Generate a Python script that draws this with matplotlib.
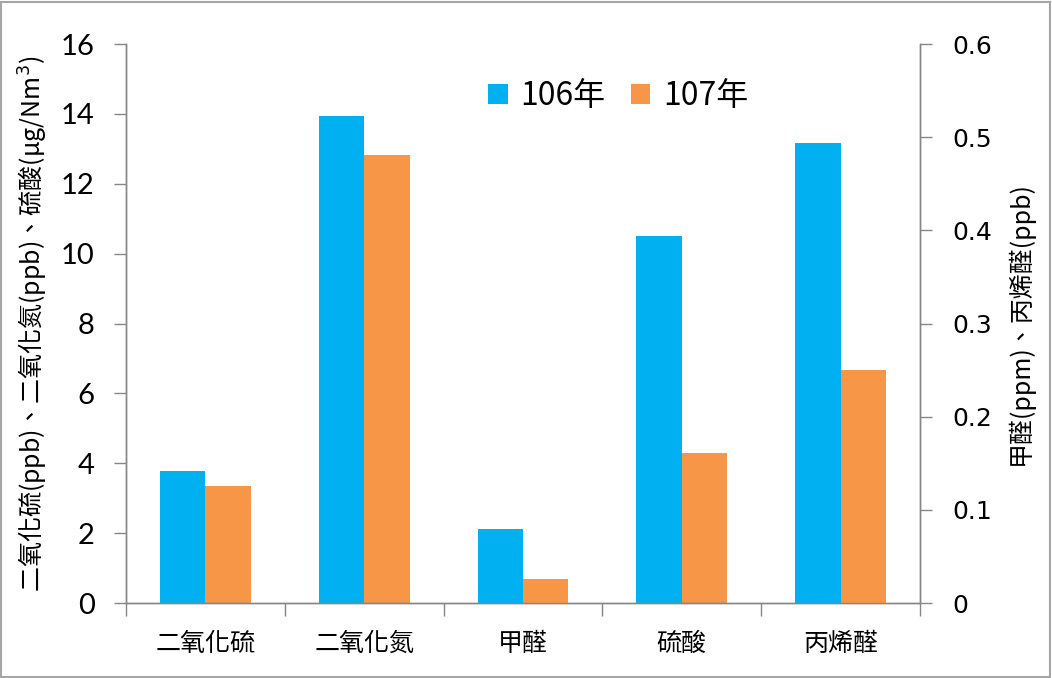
import matplotlib
matplotlib.use("Agg")
import matplotlib.pyplot as plt
from matplotlib.patches import Rectangle
import numpy as np

categories = ["二氧化硫", "二氧化氮", "甲醛", "硫酸", "丙烯醛"]
series_names = ["106年", "107年"]
# left-axis pollutants (ppb / μg/Nm3)
left_idx = [0, 1, 3]
left_106 = [3.78, 13.94, 10.5]
left_107 = [3.35, 12.82, 4.29]
# right-axis pollutants (ppm / ppb)
right_idx = [2, 4]
right_106 = [0.0795, 0.494]
right_107 = [0.026, 0.25]
left_ticks = [0, 2, 4, 6, 8, 10, 12, 14, 16]
right_ticks = [0, 0.1, 0.2, 0.3, 0.4, 0.5, 0.6]
right_tick_labels = ["0", "0.1", "0.2", "0.3", "0.4", "0.5", "0.6"]

c106 = "#00B0F0"
c107 = "#F79646"
gray = "#868686"
cjk = ["Noto Sans CJK TC", "DejaVu Sans"]

fig = plt.figure(figsize=(10.52, 6.78), dpi=100)
fig.patches.append(Rectangle((0.001, 0.001), 0.997, 0.996, transform=fig.transFigure,
                             fill=False, edgecolor="#A6A6A6", linewidth=1.5))
ax = fig.add_axes([0.1198, 0.1106, 0.7547, 0.8245])
ax2 = ax.twinx()

w = 0.286
x = np.arange(len(categories))
ax.bar(np.array(left_idx) - w / 2, left_106, w, color=c106, label=series_names[0])
ax.bar(np.array(left_idx) + w / 2, left_107, w, color=c107, label=series_names[1])
ax2.bar(np.array(right_idx) - w / 2, right_106, w, color=c106)
ax2.bar(np.array(right_idx) + w / 2, right_107, w, color=c107)

ax.set_xlim(-0.5, len(categories) - 0.5)
ax.set_ylim(0, 16)
ax2.set_ylim(0, 0.6)
ax.set_yticks(left_ticks)
ax.set_yticklabels([str(t) for t in left_ticks], fontsize=21, family=["Lato", "DejaVu Sans"])
ax2.set_yticks(right_ticks)
ax2.set_yticklabels(right_tick_labels, fontsize=18, family="DejaVu Sans")

ax.set_xticks(x)
ax.set_xticklabels(categories, fontsize=18, family=cjk)
ax.set_xticks(np.arange(-0.5, len(categories)), minor=True)
ax.tick_params(axis="x", which="major", length=0, pad=20)
ax.tick_params(axis="x", which="minor", length=9, color=gray, width=1)
ax.tick_params(axis="y", length=8.6, color=gray, width=1, pad=14)
ax2.tick_params(axis="y", length=8.6, color=gray, width=1, pad=15)

for a in (ax, ax2):
    a.spines["top"].set_visible(False)
    for s in ("left", "right", "bottom"):
        a.spines[s].set_color(gray)
        a.spines[s].set_linewidth(1)

ax.set_ylabel("二氧化硫(ppb)、二氧化氮(ppb)、硫酸(μg/Nm$^3$)", fontsize=18, family=cjk, labelpad=8)
ax2.set_ylabel("甲醛(ppm)、丙烯醛(ppb)", fontsize=18, family=cjk, labelpad=10)

leg = ax.legend(loc="center", bbox_to_anchor=(0.62, 0.907), ncol=2, frameon=False,
                prop={"family": cjk, "size": 23}, handlelength=0.6, handleheight=0.6,
                handletextpad=0.4, columnspacing=0.8)

fig.savefig("out.png", dpi=100)
